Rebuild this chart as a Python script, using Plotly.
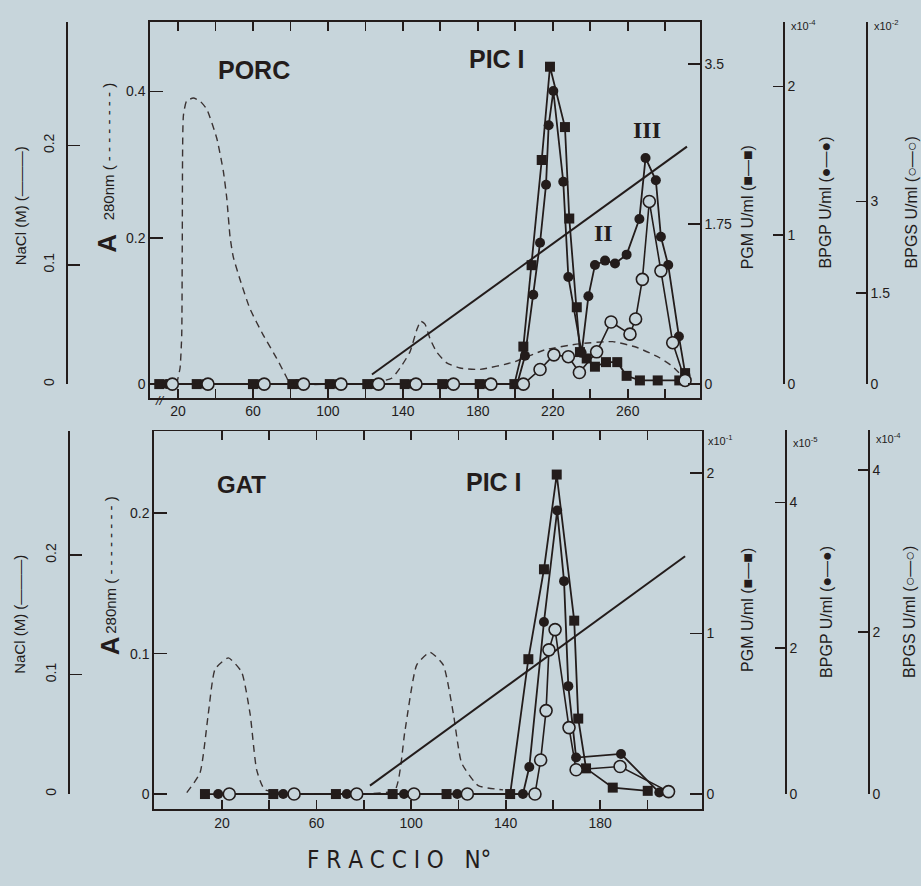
import plotly.graph_objects as go

# ------------------------------------------------------------------ data
# PORC (top panel): fraction numbers and measured values
porc_pgm_frac = [10, 30, 60, 81, 101, 121, 141, 161, 181, 199.5, 204.3, 208.7, 214.1, 218.5,
                 226.5, 228.8, 232.8, 234.5, 238.1, 242.5, 248.4, 254.4, 259.4, 266.5, 276,
                 287.5, 290.6]
porc_pgm = [0, 0, 0, 0, 0, 0, 0, 0, 0, 0, 0.41, 1.30, 2.45, 3.47,
            2.81, 1.81, 0.84, 0.35, 0.28, 0.19, 0.24, 0.24, 0.09, 0.04, 0.04,
            0.04, 0.12]

porc_bpgp_frac = [14, 34, 64, 84, 105, 124, 145, 165, 185, 201, 205.2, 209.6, 213.2, 216.4,
                  217.8, 220.3, 225.6, 228.3, 235.4, 239, 242.5, 247.9, 253.2, 259.4, 266.2,
                  269.5, 275, 277.7, 281.6, 287.3, 290.8]
porc_bpgp = [0, 0, 0, 0, 0, 0, 0, 0, 0, 0, 0.19, 0.60, 0.95, 1.34,
             1.74, 1.97, 1.36, 0.72, 0.21, 0.59, 0.80, 0.83, 0.81, 0.87, 1.11,
             1.52, 1.37, 0.99, 0.80, 0.32, 0.06]

porc_bpgs_frac = [17, 36, 66, 87, 107, 127, 147, 167, 187, 204.3, 213.2, 220.6, 228.3, 234.2,
                  243.4, 251.1, 261.2, 264.2, 267.8, 271.5, 277.7, 284.0, 290.6]
porc_bpgs = [0, 0, 0, 0, 0, 0, 0, 0, 0, 0, 0.24, 0.48, 0.45, 0.19,
             0.53, 1.02, 0.82, 1.07, 1.72, 3.00, 1.86, 0.68, 0.06]

porc_a_frac = [19.3, 21.1, 22.0, 22.3, 22.9, 24.6, 28.2, 31.7, 35.3, 40.7, 44.2, 46.0, 47.8,
               49.5, 53.1, 58.4, 65.5, 72.7, 78.0, 79.8, 100, 120, 134.0, 138.5, 143.8,
               147.4, 149.5, 151.8, 154.5, 158.0, 163.4, 170.5, 181, 199, 216, 234, 252,
               265, 277, 284, 291.5]
porc_a = [0, 0.022, 0.067, 0.201, 0.367, 0.387, 0.391, 0.387, 0.376, 0.336, 0.291, 0.255, 0.201,
          0.174, 0.143, 0.103, 0.067, 0.035, 0.009, 0, 0, 0, 0.008, 0.022, 0.044,
          0.074, 0.086, 0.082, 0.062, 0.044, 0.029, 0.022, 0.020, 0.030, 0.047, 0.055, 0.058,
          0.050, 0.036, 0.024, 0.004]

porc_nacl_frac = [123.5, 291.6]
porc_nacl = [0.008, 0.199]

# GAT (bottom panel)
gat_pgm_frac = [12.8, 41.7, 68.2, 92.2, 115, 141.9, 149.6, 156.2, 161.6, 169.0, 170.7, 174.0,
                185.3, 200.1]
gat_pgm = [0, 0, 0, 0, 0, 0, 0.84, 1.40, 1.99, 1.08, 0.47, 0.16, 0.04, 0.02]

gat_bpgp_frac = [18.4, 45.9, 72.8, 97, 119.5, 147.3, 150.0, 156.2, 161.8, 164.7, 166.5, 169.8,
                 188.8, 205.0]
gat_bpgp = [0, 0, 0, 0, 0, 0, 0.37, 2.36, 3.89, 2.92, 1.48, 0.50, 0.55, 0.02]

gat_bpgs_frac = [23.1, 50.5, 77, 101.2, 123.8, 152.4, 154.8, 157.1, 158.3, 160.9, 166.8, 169.8,
                 188.4, 208.9]
gat_bpgs = [0, 0, 0, 0, 0, 0, 0.42, 1.03, 1.78, 2.03, 0.82, 0.30, 0.34, 0.03]

gat_a_frac = [5.1, 10.7, 14.2, 17.1, 22.7, 28.3, 31.9, 34.7, 38.2, 60, 80, 93.2, 97.4, 102.4,
              108.0, 113.6, 117.9, 121.4, 128.4, 138.9]
gat_a = [0.001, 0.015, 0.057, 0.089, 0.097, 0.087, 0.057, 0.017, 0.003, 0, 0, 0.003, 0.045,
         0.092, 0.101, 0.092, 0.057, 0.022, 0.006, 0.003]

gat_nacl_frac = [82.6, 215.9]
gat_nacl = [0.007, 0.199]

# tick values / labels
porc_xlabels = [20, 60, 100, 140, 180, 220, 260]
porc_xminor = [40, 80, 120, 160, 200, 240, 280]
gat_xlabels = [20, 60, 100, 140, 180]
gat_xminor = [40, 80, 120, 160, 200]

# ------------------------------------------------------------------ style / geometry
W, H = 921, 886
INK = '#231c1b'
BG = '#c7d5db'
FONT = 'Liberation Sans, Arial, sans-serif'


def px(x):
    return x / W


def py(y):
    return 1 - y / H


def akey(letter, name):
    return letter + 'axis' + name[1:]


fig = go.Figure()


def add_series(xa, ya_a, ya_pgm, ya_nacl, ya_bpgp, ya_bpgs,
               a_f, a_v, n_f, n_v, p_f, p_v, g_f, g_v, s_f, s_v):
    fig.add_trace(go.Scatter(x=a_f, y=a_v, xaxis=xa, yaxis=ya_a, mode='lines',
                             line=dict(color='#3a3232', width=1.4, dash='7px,5px',
                                       shape='spline', smoothing=0.5),
                             hoverinfo='skip', showlegend=False))
    fig.add_trace(go.Scatter(x=n_f, y=n_v, xaxis=xa, yaxis=ya_nacl, mode='lines',
                             line=dict(color=INK, width=2),
                             hoverinfo='skip', showlegend=False))
    fig.add_trace(go.Scatter(x=p_f, y=p_v, xaxis=xa, yaxis=ya_pgm, mode='lines+markers',
                             line=dict(color=INK, width=1.8),
                             marker=dict(symbol='square', size=10, color=INK),
                             cliponaxis=False, showlegend=False))
    fig.add_trace(go.Scatter(x=g_f, y=g_v, xaxis=xa, yaxis=ya_bpgp, mode='lines+markers',
                             line=dict(color=INK, width=1.8),
                             marker=dict(symbol='circle', size=10, color=INK),
                             cliponaxis=False, showlegend=False))
    fig.add_trace(go.Scatter(x=s_f, y=s_v, xaxis=xa, yaxis=ya_bpgs, mode='lines+markers',
                             line=dict(color=INK, width=1.6),
                             marker=dict(symbol='circle', size=12, color=BG,
                                         line=dict(color=INK, width=1.6)),
                             cliponaxis=False, showlegend=False))


# top:    frame x / A=y, PGM=y2, NaCl=y3, BPGP=y4, BPGS=y5 ; brackets (x3,y6) (x4,y7) (x5,y8)
# bottom: frame x2 / A=y9, PGM=y10, NaCl=y11, BPGP=y12, BPGS=y13 ; brackets (x6,y14) (x7,y15) (x8,y16)
add_series('x', 'y', 'y2', 'y3', 'y4', 'y5',
           porc_a_frac, porc_a, porc_nacl_frac, porc_nacl,
           porc_pgm_frac, porc_pgm, porc_bpgp_frac, porc_bpgp, porc_bpgs_frac, porc_bpgs)
add_series('x2', 'y9', 'y10', 'y11', 'y12', 'y13',
           gat_a_frac, gat_a, gat_nacl_frac, gat_nacl,
           gat_pgm_frac, gat_pgm, gat_bpgp_frac, gat_bpgp, gat_bpgs_frac, gat_bpgs)
for xa, ya in [('x3', 'y6'), ('x4', 'y7'), ('x5', 'y8'),
               ('x6', 'y14'), ('x7', 'y15'), ('x8', 'y16')]:
    fig.add_trace(go.Scatter(x=[], y=[], xaxis=xa, yaxis=ya, mode='lines',
                             hoverinfo='skip', showlegend=False))

tickfont = dict(family=FONT, size=14, color=INK)
common = dict(showgrid=False, zeroline=False, fixedrange=True, tickfont=tickfont,
              linecolor=INK, linewidth=1.7, tickcolor=INK, tickwidth=1.7)


def yaxis(**kw):
    d = dict(common)
    d.update(kw)
    return d


def panel(top, bot, zero, left, right, f_left_px, f_scale, xname, xd, yn,
          a_scale, a_ticks, a_text,
          p_scale, p_ticks, p_text,
          n_scale, n_top, n_pos,
          g_scale, g_ticks, g_text, g_top, g_pos,
          s_scale, s_ticks, s_text, s_top, s_pos, xtv, xminor):
    lay = {}
    x_lo = (left - f_left_px) / f_scale
    x_hi = (right - f_left_px) / f_scale
    frame = [py(bot), py(top)]
    d = dict(common)
    d.update(domain=[px(left), px(right)], range=[x_lo, x_hi], anchor=yn[0], showline=True,
             mirror='allticks', ticks='inside', ticklen=9, tickvals=xtv,
             ticktext=[str(v) for v in xtv],
             minor=dict(tickvals=xminor, ticks='inside', ticklen=9, tickcolor=INK,
                        tickwidth=1.7, showgrid=False))
    lay[akey('x', xname)] = d

    def rng(scale):
        return [-(bot - zero) / scale, (zero - top) / scale]

    # A280 on the frame's left side
    lay[akey('y', yn[0])] = yaxis(domain=frame, range=rng(a_scale), anchor=xname, side='left',
                                  showline=True, ticks='inside', ticklen=13,
                                  tickvals=a_ticks, ticktext=a_text)
    # PGM on the frame's right side
    lay[akey('y', yn[1])] = yaxis(range=rng(p_scale), anchor=xname, overlaying=yn[0],
                                  side='right', showline=True, ticks='inside', ticklen=12,
                                  tickvals=p_ticks, ticktext=p_text)
    # hidden data axes sharing the frame (NaCl, BPGP, BPGS)
    for yid, sc in [(yn[2], n_scale), (yn[3], g_scale), (yn[4], s_scale)]:
        lay[akey('y', yid)] = yaxis(range=rng(sc), anchor=xname, overlaying=yn[0],
                                    visible=False)
    # visible bracket axes, each anchored to an invisible sliver of x axis
    brackets = [
        (xd[0], yn[5], n_pos, n_top, n_scale, [0, 0.1, 0.2], ['0', '0.1', '0.2'], 'left'),
        (xd[1], yn[6], g_pos, g_top, g_scale, g_ticks, g_text, 'right'),
        (xd[2], yn[7], s_pos, s_top, s_scale, s_ticks, s_text, 'right'),
    ]
    for xid, yid, pos, btop, sc, tv, tt, side in brackets:
        dom = [px(pos), px(pos + 1)] if side == 'left' else [px(pos - 1), px(pos)]
        lay[akey('x', xid)] = dict(domain=dom, range=[0, 1], anchor=yid, visible=False,
                                   fixedrange=True)
        bmax = (zero - btop) / sc
        extra = dict(tickangle=-90, ticklabelstandoff=7) if side == 'left' else {}
        lay[akey('y', yid)] = yaxis(domain=[py(zero), py(btop)], range=[0, bmax],
                                    anchor=xid, side=side, showline=True, ticks='inside',
                                    ticklen=12 if side == 'left' else 10,
                                    tickvals=tv + [bmax * 0.999],
                                    ticktext=tt + [' '], **extra)
    return lay


layout = {}
layout.update(panel(14, 397, 383, 150, 700, 140.5, 1.874, 'x', ['x3', 'x4', 'x5'],
                    ['y', 'y2', 'y3', 'y4', 'y5', 'y6', 'y7', 'y8'],
                    745, [0, 0.2, 0.4], ['0', '0.2', '0.4'],
                    326 / 3.5, [0, 1.75, 3.5], ['0', '1.75', '3.5'],
                    1215, 14, 68,
                    151.5, [0, 1, 2], ['0', '1', '2'], 14, 783,
                    62, [0, 1.5, 3], ['0', '1.5', '3'], 14, 866,
                    porc_xlabels, porc_xminor))
layout.update(panel(431, 816, 800.5, 154, 702, 174.7, 2.364, 'x2', ['x6', 'x7', 'x8'],
                    ['y9', 'y10', 'y11', 'y12', 'y13', 'y14', 'y15', 'y16'],
                    1430, [0, 0.1, 0.2], ['0', '0.1', '0.2'],
                    163.5, [0, 1, 2], ['0', '1', '2'],
                    1217, 431, 70,
                    74.25, [0, 2, 4], ['0', '2', '4'], 430, 785,
                    82.5, [0, 2, 4], ['0', '2', '4'], 430, 868,
                    gat_xlabels, gat_xminor))


def ann(x, y, text, size=14, angle=0, family=FONT, anchor='center', color=INK):
    return dict(x=px(x), y=py(y), xref='paper', yref='paper', text=text, showarrow=False,
                textangle=angle, xanchor=anchor, yanchor='middle',
                font=dict(family=family, size=size, color=color))


SERIF = 'Liberation Serif, DejaVu Serif, serif'
NARROW = 'Liberation Sans Narrow, DejaVu Sans Condensed, sans-serif'
annotations = [
    # top panel
    ann(254, 63, '<b>PORC</b>', 25),
    ann(497, 52, '<b>PIC I</b>', 25),
    ann(647, 124, '<b>III</b>', 24, family=SERIF),
    ann(603, 229, '<b>II</b>', 24, family=SERIF),
    ann(160, 400, '<i>//</i>', 13),
    ann(20, 202, 'NaCl (M) (———)', 15, -90),
    ann(107, 240, '<b>A</b>', 26, -90),
    ann(108, 146, '280nm ( - - - - - - - - )', 15, -90),
    ann(747, 203, 'PGM U/ml (■—■)', 16, -90),
    ann(825, 198, 'BPGP U/ml (●—●)', 16, -90),
    ann(911, 198, 'BPGS U/ml (○—○)', 16, -90),
    ann(789, 17, 'x10<sup>-4</sup>', 11, anchor='left'),
    ann(872, 17, 'x10<sup>-2</sup>', 11, anchor='left'),
    # bottom panel
    ann(241, 485, '<b>GAT</b>', 24),
    ann(494, 483, '<b>PIC I</b>', 25),
    ann(20, 618, 'NaCl (M) (———)', 15, -90),
    ann(110, 650, '<b>A</b>', 26, -90),
    ann(111, 567, '280nm ( - - - - - - - - )', 15, -90),
    ann(748, 613, 'PGM U/ml (■—■)', 16, -90),
    ann(827, 615, 'BPGP U/ml (●—●)', 16, -90),
    ann(910, 615, 'BPGS U/ml (○—○)', 16, -90),
    ann(706, 440, 'x10<sup>-1</sup>', 11, anchor='left'),
    ann(791, 442, 'x10<sup>-5</sup>', 11, anchor='left'),
    ann(874, 438, 'x10<sup>-4</sup>', 11, anchor='left'),
    ann(399, 868, 'F R A C C I O   N°', 24, family=NARROW),
]

fig.update_layout(
    width=W, height=H, margin=dict(l=0, r=0, t=0, b=0),
    paper_bgcolor=BG, plot_bgcolor='rgba(0,0,0,0)', showlegend=False,
    annotations=annotations, **layout)

fig.write_html('out.html', config={'displayModeBar': False, 'staticPlot': True},
               post_script="document.body.style.margin='0px';"
                           "document.body.style.overflow='hidden';"
                           "window.scrollTo(0,0);")
